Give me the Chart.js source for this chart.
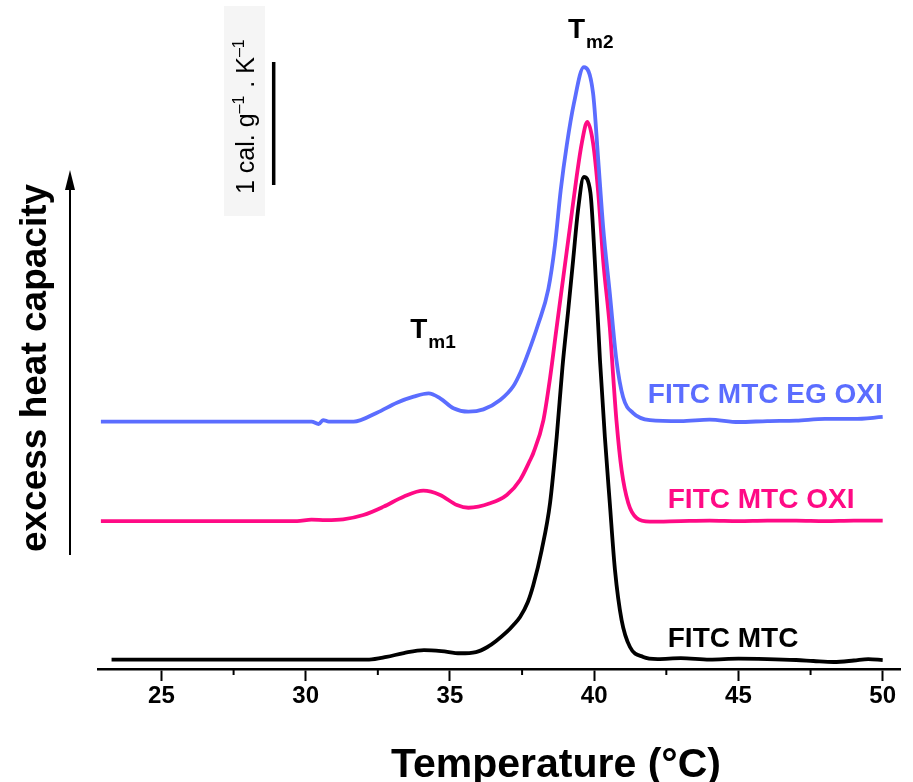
<!DOCTYPE html>
<html lang="en">
<head>
<meta charset="UTF-8">
<title>FITC MTC excess heat capacity</title>
<script src="https://cdn.jsdelivr.net/npm/chart.js"></script>
<style>
  body { margin: 0; background: #fff; }
  canvas { display: block; }
</style>
</head>
<body>
<canvas id="dscChart" width="913" height="782"></canvas>
<script>
// temperature (°C) and excess heat capacity (cal g-1 K-1, curves stacked with offsets)
const tempMTC = [23.27, 25, 28, 30, 32.2, 32.8, 33.4, 34.1, 34.7, 35.35, 35.9, 36.3, 36.6, 36.97, 37.2, 37.43, 37.7, 37.89, 38.18, 38.47, 38.7, 38.9, 39.1, 39.27, 39.44, 39.64, 39.87, 40.02, 40.2, 40.37, 40.54, 40.72, 40.95, 41.24, 41.7, 42.2, 43, 44, 45, 46, 47, 47.6, 48.3, 49, 49.5, 50];
const cpMTC = [0.077, 0.077, 0.077, 0.077, 0.077, 0.098, 0.130, 0.154, 0.146, 0.128, 0.138, 0.179, 0.228, 0.301, 0.358, 0.423, 0.545, 0.683, 0.967, 1.350, 1.886, 2.455, 2.919, 3.325, 3.732, 4.000, 3.870, 3.325, 2.512, 1.886, 1.350, 0.805, 0.398, 0.179, 0.098, 0.081, 0.089, 0.077, 0.085, 0.081, 0.073, 0.065, 0.057, 0.069, 0.081, 0.073];

const tempOXI = [22.9, 25, 28, 29.7, 30.2, 30.7, 31.3, 32.0, 32.7, 33.39, 34.08, 34.66, 35.24, 35.64, 36.39, 36.97, 37.43, 37.78, 37.89, 38.24, 38.47, 38.70, 38.93, 39.16, 39.39, 39.57, 39.76, 39.96, 40.14, 40.31, 40.54, 40.66, 40.77, 40.95, 41.18, 41.47, 41.93, 43, 44, 45, 46, 47, 48, 49, 50];
const cpOXI = [1.203, 1.203, 1.203, 1.203, 1.215, 1.211, 1.217, 1.252, 1.320, 1.401, 1.450, 1.415, 1.333, 1.311, 1.347, 1.415, 1.537, 1.699, 1.756, 2.024, 2.366, 2.780, 3.187, 3.593, 4.000, 4.276, 4.447, 4.276, 3.870, 3.325, 2.780, 2.374, 2.024, 1.618, 1.350, 1.228, 1.198, 1.203, 1.207, 1.203, 1.207, 1.207, 1.203, 1.207, 1.206];

const tempEGOXI = [22.9, 25, 28, 30.2, 30.45, 30.6, 30.8, 31.66, 32.47, 33.16, 33.74, 34.26, 34.66, 35.12, 35.64, 36.16, 36.74, 37.2, 37.45, 37.66, 38.06, 38.41, 38.64, 38.84, 39.05, 39.3, 39.64, 39.96, 40.14, 40.31, 40.54, 40.77, 41.0, 41.35, 41.93, 43, 44, 45, 46, 47, 48, 49, 50];
const cpEGOXI = [2.011, 2.011, 2.011, 2.011, 1.992, 2.024, 2.011, 2.011, 2.084, 2.165, 2.214, 2.241, 2.201, 2.120, 2.092, 2.111, 2.187, 2.301, 2.415, 2.537, 2.805, 3.089, 3.447, 3.894, 4.260, 4.602, 4.894, 4.683, 4.138, 3.593, 3.057, 2.512, 2.211, 2.081, 2.024, 2.016, 2.028, 2.008, 2.016, 2.020, 2.033, 2.033, 2.049];

const seriesNames = ['FITC MTC', 'FITC MTC OXI', 'FITC MTC EG OXI'];
const seriesColors = ['#000000', '#ff0a85', '#5b6dff'];
const xTicks = [25, 30, 35, 40, 45, 50];
const xMinorTicks = [27.5, 32.5, 37.5, 42.5, 47.5];

const toPoints = (xs, ys) => xs.map((t, i) => ({ x: t, y: ys[i] }));

// labels and scale bar, in data coordinates
const curveLabels = [
  { text: seriesNames[2], color: seriesColors[2], x: 41.86, y: 2.16 },
  { text: seriesNames[1], color: seriesColors[1], x: 42.55, y: 1.31 },
  { text: seriesNames[0], color: seriesColors[0], x: 42.55, y: 0.18 }
];
const peakLabels = [
  { sub: 'm1', x: 33.62, y: 2.69 },
  { sub: 'm2', x: 39.09, y: 5.13 }
];

const sans = "'Liberation Sans', Arial, sans-serif";

const decorations = {
  id: 'decorations',
  beforeDraw(chart) {
    const ctx = chart.ctx;
    ctx.save();
    ctx.fillStyle = '#f5f5f5';
    ctx.fillRect(224, 6, 41, 210);
    ctx.restore();
  },
  afterDraw(chart) {
    const { ctx, scales: { x, y } } = chart;
    ctx.save();

    // minor ticks
    ctx.strokeStyle = '#000';
    ctx.lineWidth = 2;
    const base = chart.chartArea.bottom;
    xMinorTicks.forEach(v => {
      const px = x.getPixelForValue(v);
      ctx.beginPath();
      ctx.moveTo(px, base);
      ctx.lineTo(px, base + 6);
      ctx.stroke();
    });

    // x title, sits right of the axis centre in the original
    ctx.fillStyle = '#000';
    ctx.textAlign = 'center';
    ctx.textBaseline = 'alphabetic';
    ctx.font = 'bold 41px ' + sans;
    ctx.fillText('Temperature (\u00b0C)', 556, 777);

    // curve names
    ctx.textAlign = 'left';
    ctx.font = 'bold 28px ' + sans;
    curveLabels.forEach(l => {
      ctx.fillStyle = l.color;
      ctx.fillText(l.text, x.getPixelForValue(l.x), y.getPixelForValue(l.y));
    });

    // T_m labels
    ctx.fillStyle = '#000';
    peakLabels.forEach(l => {
      const px = x.getPixelForValue(l.x), py = y.getPixelForValue(l.y);
      ctx.font = 'bold 28px ' + sans;
      ctx.fillText('T', px, py);
      const w = ctx.measureText('T').width;
      ctx.font = 'bold 19px ' + sans;
      ctx.fillText(l.sub, px + w + 1, py + 10);
    });

    // scale bar: 1 cal g-1 K-1
    const bx = x.getPixelForValue(28.89);
    ctx.lineWidth = 3.5;
    ctx.beginPath();
    ctx.moveTo(bx, y.getPixelForValue(4.935));
    ctx.lineTo(bx, y.getPixelForValue(3.935));
    ctx.stroke();

    ctx.save();
    ctx.translate(254, 194);
    ctx.rotate(-Math.PI / 2);
    let cx = 0;
    const parts = [['1 cal. g', 25, 0], ['\u20131', 16, -10], [' . K', 25, 0], ['\u20131', 16, -10]];
    parts.forEach(([t, s, dy]) => {
      ctx.font = s + 'px ' + sans;
      ctx.fillText(t, cx, dy);
      cx += ctx.measureText(t).width + (dy ? 1 : 0);
    });
    ctx.restore();

    // y axis: arrow and title
    ctx.lineWidth = 2;
    ctx.beginPath();
    ctx.moveTo(70, 555);
    ctx.lineTo(70, 185);
    ctx.stroke();
    ctx.beginPath();
    ctx.moveTo(70, 170);
    ctx.lineTo(65, 190);
    ctx.lineTo(75, 190);
    ctx.closePath();
    ctx.fill();

    ctx.save();
    ctx.translate(36, 368);
    ctx.rotate(-Math.PI / 2);
    ctx.textAlign = 'center';
    ctx.textBaseline = 'middle';
    ctx.font = 'bold 37px ' + sans;
    ctx.fillText('excess heat capacity', 0, 0);
    ctx.restore();

    ctx.restore();
  }
};

const makeSet = (i, xs, ys) => ({
  label: seriesNames[i],
  data: toPoints(xs, ys),
  borderColor: seriesColors[i],
  borderWidth: 3.8,
  pointRadius: 0,
  fill: false,
  cubicInterpolationMode: 'monotone'
});

new Chart(document.getElementById('dscChart'), {
  type: 'line',
  data: {
    datasets: [
      makeSet(2, tempEGOXI, cpEGOXI),
      makeSet(1, tempOXI, cpOXI),
      makeSet(0, tempMTC, cpMTC)
    ]
  },
  options: {
    responsive: false,
    animation: false,
    layout: { padding: { left: 98, right: 13, top: 0, bottom: 0 } },
    plugins: { legend: { display: false }, tooltip: { enabled: false } },
    scales: {
      x: {
        type: 'linear',
        min: 22.8,
        max: 50.6,
        afterBuildTicks: s => { s.ticks = xTicks.map(v => ({ value: v })); },
        afterFit: s => { s.height = 113; },
        border: { display: true, color: '#000', width: 2.5 },
        grid: { drawOnChartArea: false, drawTicks: true, tickLength: 12, tickWidth: 2, tickColor: '#000' },
        ticks: {
          color: '#000',
          padding: 1,
          font: { family: sans, size: 24, weight: 'bold' }
        },
        title: { display: false }
      },
      y: {
        display: false,
        min: 0,
        max: 669 / 123
      }
    }
  },
  plugins: [decorations]
});
</script>
</body>
</html>
